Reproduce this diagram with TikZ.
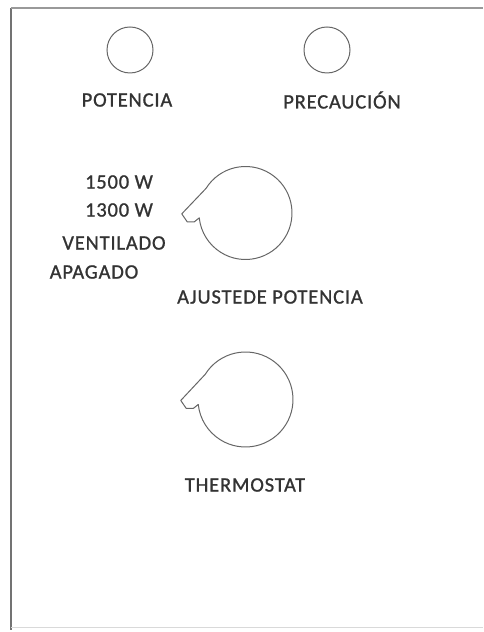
\documentclass[tikz,border=0pt]{standalone}
\usepackage{fontspec}
\usepackage{tikz}
\newfontfamily\lblfont[LetterSpace=4,FakeBold=1]{Carlito}

\begin{document}
\begin{tikzpicture}[x=1pt,y=1pt,
    lbl/.style={font={\lblfont\fontsize{20.5}{24}\selectfont},text=black!80,inner sep=0pt},
    lamp/.style={draw=black!60,line width=1pt,circle,inner sep=0pt,minimum size=46pt},
    knob/.style={draw=black!60,line width=1pt,line join=round}]
            \useasboundingbox (0,0) rectangle (483,632);

            % frame
            \draw [black!55,line width=1.8pt] (11,2) -- (11,624);
            \draw [black!40,line width=1.2pt] (11,624) -- (483,624);
            \draw [black!15,line width=1pt] (11,4) -- (483,4);

            % lamps
            \node (potlamp) [lamp] at (130,582) {};
            \node (prelamp) [lamp] at (327,582) {};
            \node (pot) [lbl] at (127,532) {POTENCIA};
            \node (pre) [lbl] at (342,532) {PRECAUCIÓN};

            % power knob
            \coordinate (ajc) at (245.5,419);
            \draw [knob] (ajc) ++(148:46.5) arc[start angle=148,end angle=-174,radius=46.5]
                -- ++(-5,-4) -- ++(-7,0) -- ++(-5.5,8) -- cycle;
            \node (w1500) [lbl] at (119,450) {1500 W};
            \node (w1300) [lbl] at (119,422) {1300 W};
            \node (vent) [lbl] at (114,389) {VENTILADO};
            \node (apag) [lbl] at (94,360) {APAGADO};
            \node (aj) [lbl] at (270,335) {AJUSTE\hspace{1pt}DE POTENCIA};

            % thermostat knob
            \coordinate (thc) at (245.5,232.5);
            \draw [knob] (thc) ++(148:47.5) arc[start angle=148,end angle=-174,radius=47.5]
                -- ++(-5,-4) -- ++(-7,0) -- ++(-5.5,8) -- cycle;
            \node (th) [lbl] at (245,147) {THERMOSTAT};
        \end{tikzpicture}
\end{document}
